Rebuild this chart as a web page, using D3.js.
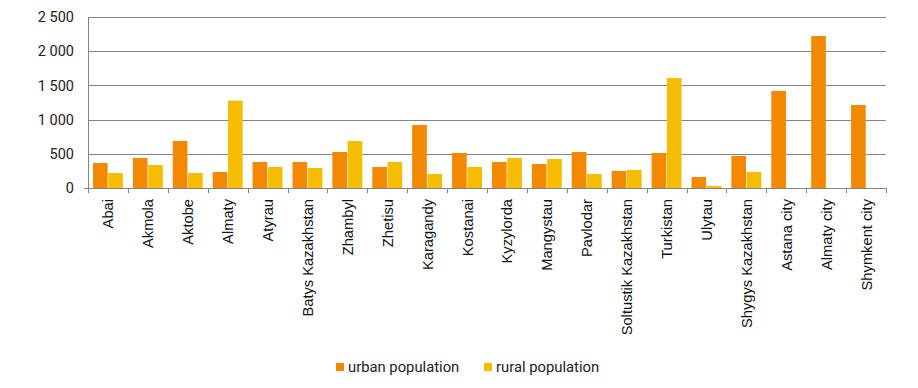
<!DOCTYPE html>
<html>
<head>
<meta charset="utf-8">
<script src="https://cdn.jsdelivr.net/npm/d3@7"></script>
<style>
  body { margin: 0; background: #fff; }
  svg { display: block; }
</style>
</head>
<body>
<svg id="chart" width="918" height="388"></svg>
<script>
const regions = ["Abai", "Akmola", "Aktobe", "Almaty", "Atyrau", "Batys Kazakhstan", "Zhambyl", "Zhetisu",
  "Karagandy", "Kostanai", "Kyzylorda", "Mangystau", "Pavlodar", "Soltustik Kazakhstan", "Turkistan",
  "Ulytau", "Shygys Kazakhstan", "Astana city", "Almaty city", "Shymkent city"];
const urban = [365, 439, 687, 234, 380, 380, 526, 307, 921, 512, 380, 351, 526, 249, 512, 161, 468, 1418, 2222, 1213];
const rural = [219, 336, 219, 1277, 307, 292, 687, 380, 205, 307, 439, 424, 205, 263, 1608, 29, 234, 0, 0, 0];
const seriesNames = ["urban population", "rural population"];
const seriesColors = ["#F38802", "#F6BD00"];
const yTicks = [0, 500, 1000, 1500, 2000, 2500];

const svg = d3.select("#chart");
const plotLeft = 88, plotRight = 886, plotTop = 17, plotBottom = 188;

const x = d3.scaleBand().domain(regions).range([plotLeft, plotRight]).paddingInner(0.25).paddingOuter(0.125);
const x1 = d3.scaleBand().domain([0, 1]).range([0, x.bandwidth()]).paddingInner(0.04);
const y = d3.scaleLinear().domain([0, 2500]).range([plotBottom, plotTop]);
const fmt = v => d3.format(",")(v).replace(/,/g, " ");

// gridlines
svg.append("g").selectAll("line")
  .data(yTicks.filter(d => d > 0))
  .join("line")
  .attr("x1", plotLeft).attr("x2", plotRight)
  .attr("y1", d => Math.round(y(d)) + 0.5).attr("y2", d => Math.round(y(d)) + 0.5)
  .attr("stroke", "#858585").attr("stroke-width", 1);

// y labels
svg.append("g").selectAll("text")
  .data(yTicks)
  .join("text")
  .attr("x", 74).attr("y", d => y(d))
  .attr("dy", "0.36em")
  .attr("text-anchor", "end")
  .attr("font-family", "Roboto, sans-serif")
  .attr("font-size", 14.5)
  .attr("fill", "#222")
  .text(fmt);

// bars
const data = regions.map((r, i) => ({ region: r, vals: [urban[i], rural[i]] }));
svg.append("g").selectAll("g")
  .data(data)
  .join("g")
  .attr("transform", d => "translate(" + x(d.region) + ",0)")
  .selectAll("rect")
  .data(d => d.vals.map((v, k) => ({ k, v })).filter(e => e.v > 0))
  .join("rect")
  .attr("x", d => x1(d.k))
  .attr("width", x1.bandwidth())
  .attr("y", d => y(d.v))
  .attr("height", d => plotBottom - y(d.v))
  .attr("fill", d => seriesColors[d.k]);

// axes lines
svg.append("line")
  .attr("x1", plotLeft + 0.5).attr("x2", plotLeft + 0.5)
  .attr("y1", plotTop).attr("y2", plotBottom + 4)
  .attr("stroke", "#858585");
svg.append("line")
  .attr("x1", plotLeft - 4).attr("x2", plotRight)
  .attr("y1", plotBottom + 0.5).attr("y2", plotBottom + 0.5)
  .attr("stroke", "#858585");

const step = (plotRight - plotLeft) / regions.length;
svg.append("g").selectAll("line")
  .data(d3.range(regions.length + 1))
  .join("line")
  .attr("x1", i => Math.round(plotLeft + i * step) + 0.5)
  .attr("x2", i => Math.round(plotLeft + i * step) + 0.5)
  .attr("y1", plotBottom).attr("y2", plotBottom + 5)
  .attr("stroke", "#858585");

// category labels
svg.append("g").selectAll("text")
  .data(regions)
  .join("text")
  .attr("transform", d => "translate(" + (x(d) + x.bandwidth() / 2 + 5.5) + ",199) rotate(-90)")
  .attr("text-anchor", "end")
  .attr("font-family", "'Liberation Sans', Arial, sans-serif")
  .attr("font-size", 14.7)
  .attr("fill", "#111")
  .text(d => d);

// legend
const legendX = [336, 484];
const legend = svg.append("g").selectAll("g")
  .data(seriesNames)
  .join("g")
  .attr("transform", (d, i) => "translate(" + legendX[i] + ",363)");
legend.append("rect")
  .attr("width", 8).attr("height", 8)
  .attr("fill", (d, i) => seriesColors[i]);
legend.append("text")
  .attr("x", 12).attr("y", 8.5)
  .attr("font-family", "Roboto, sans-serif")
  .attr("font-size", 14.8)
  .attr("fill", "#222")
  .text(d => d);
</script>
</body>
</html>
